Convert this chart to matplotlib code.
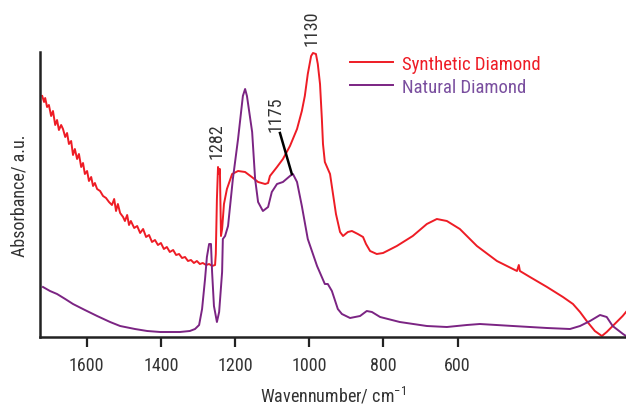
import matplotlib
matplotlib.use("Agg")
import matplotlib.pyplot as plt

plt.rcParams['font.family'] = ['Roboto Condensed', 'Archivo Narrow', 'PT Sans Narrow',
                               'Liberation Sans Narrow', 'Roboto', 'DejaVu Sans']
plt.rcParams['mathtext.fontset'] = 'custom'
plt.rcParams['mathtext.rm'] = 'Roboto Condensed'
plt.rcParams['mathtext.default'] = 'regular'

# synthetic diamond spectrum (wavenumber, absorbance a.u.)
syn_wn = [1720, 1715, 1712, 1707, 1702, 1696, 1691, 1685, 1680, 1675, 1669, 1664,
          1658, 1653, 1648, 1642, 1637, 1632, 1626, 1621, 1615, 1610, 1605, 1599,
          1594, 1588, 1583, 1578, 1572, 1564, 1556, 1548, 1540, 1532, 1526, 1521,
          1516, 1510, 1502, 1497, 1491, 1486, 1481, 1472, 1464, 1456, 1448, 1440,
          1432, 1424, 1416, 1408, 1400, 1392, 1384, 1376, 1367, 1359, 1351, 1343,
          1335, 1327, 1319, 1311, 1303, 1295, 1287, 1278, 1270, 1262, 1254, 1252,
          1249, 1246, 1243, 1241, 1238, 1235, 1230, 1222, 1208, 1192, 1173, 1155,
          1138, 1119, 1111, 1106, 1087, 1071, 1052, 1033, 1020, 1012, 1004, 995,
          990, 982, 977, 971, 966, 963, 958, 950, 944, 936, 928, 917, 909, 896,
          885, 869, 855, 847, 836, 818, 801, 764, 721, 683, 656, 629, 594, 548,
          494, 440, 435, 432, 405, 359, 316, 289, 270, 252, 230, 211, 198, 182,
          155, 146]
syn_abs = [2.41, 2.35, 2.39, 2.30, 2.32, 2.21, 2.26, 2.12, 2.17, 2.07, 2.12, 2.08,
           2.00, 2.04, 1.93, 1.96, 1.82, 1.88, 1.78, 1.83, 1.70, 1.74, 1.63, 1.66,
           1.56, 1.60, 1.51, 1.54, 1.48, 1.46, 1.41, 1.39, 1.35, 1.32, 1.38, 1.26,
           1.33, 1.24, 1.20, 1.16, 1.22, 1.12, 1.16, 1.09, 1.11, 1.04, 1.08, 1.00,
           1.02, 0.95, 0.97, 0.92, 0.94, 0.88, 0.90, 0.85, 0.87, 0.82, 0.83, 0.79,
           0.80, 0.76, 0.77, 0.74, 0.76, 0.73, 0.74, 0.72, 0.73, 0.71, 0.72, 0.83,
           1.38, 1.70, 1.63, 1.68, 1.01, 1.08, 1.33, 1.48, 1.63, 1.66, 1.65, 1.60,
           1.55, 1.53, 1.54, 1.61, 1.70, 1.78, 1.91, 2.08, 2.26, 2.41, 2.63, 2.81,
           2.84, 2.83, 2.73, 2.53, 2.18, 1.93, 1.75, 1.68, 1.63, 1.43, 1.23, 1.05,
           1.01, 1.05, 1.06, 1.03, 1.00, 0.93, 0.86, 0.83, 0.84, 0.91, 1.01, 1.13,
           1.18, 1.16, 1.08, 0.91, 0.76, 0.66, 0.72, 0.66, 0.60, 0.50, 0.40, 0.33,
           0.25, 0.16, 0.06, 0.01, 0.05, 0.11, 0.21, 0.25]

# natural diamond spectrum
nat_wn = [1718, 1699, 1680, 1658, 1637, 1605, 1572, 1537, 1510, 1470, 1437, 1402,
          1376, 1349, 1322, 1308, 1297, 1289, 1281, 1276, 1270, 1265, 1262, 1257,
          1249, 1243, 1235, 1233, 1227, 1219, 1206, 1192, 1179, 1173, 1168, 1154,
          1146, 1138, 1125, 1111, 1101, 1087, 1071, 1052, 1044, 1033, 1020, 1004,
          979, 958, 950, 939, 923, 912, 890, 863, 845, 831, 809, 756, 683, 629,
          575, 540, 451, 359, 297, 270, 243, 216, 198, 182, 154, 146]
nat_abs = [0.50, 0.46, 0.43, 0.38, 0.33, 0.27, 0.21, 0.15, 0.11, 0.08, 0.06, 0.05,
           0.05, 0.05, 0.06, 0.08, 0.12, 0.28, 0.58, 0.80, 0.93, 0.93, 0.65, 0.31,
           0.15, 0.25, 0.65, 0.98, 1.01, 1.11, 1.58, 1.98, 2.41, 2.48, 2.41, 2.05,
           1.58, 1.35, 1.26, 1.30, 1.45, 1.53, 1.55, 1.61, 1.63, 1.55, 1.31, 0.98,
           0.71, 0.53, 0.53, 0.46, 0.28, 0.23, 0.19, 0.21, 0.26, 0.25, 0.20, 0.15,
           0.11, 0.10, 0.12, 0.13, 0.11, 0.09, 0.08, 0.11, 0.16, 0.22, 0.20, 0.11,
           0.03, 0.01]

xticks = [1600, 1400, 1200, 1000, 800, 600]

# peak labels: text, x, y
peak_labels = [("1282", 1249, 1.97), ("1175", 1092, 2.24), ("1130", 995, 3.10)]

red = '#ee1c25'
purple = '#7b2483'
txt = '#333333'

fig = plt.figure(figsize=(6.26, 4.06), dpi=100)
ax = fig.add_axes([40/626, 68/406, 586/626, 285/406])

ax.plot(syn_wn, syn_abs, color=red, lw=1.4, label='Synthetic Diamond')
ax.plot(nat_wn, nat_abs, color=purple, lw=1.4, label='Natural Diamond')

ax.set_xlim(1726, 146)
ax.set_ylim(0, 2.85)

ax.spines['top'].set_visible(False)
ax.spines['right'].set_visible(False)
for s in ['left', 'bottom']:
    ax.spines[s].set_linewidth(1.8)
    ax.spines[s].set_color('#222222')

ax.set_xticks(xticks)
ax.set_yticks([])
ax.tick_params(axis='x', direction='out', length=7, width=1.6, color='#222222',
               labelsize=13, labelcolor=txt, pad=7)

ax.set_xlabel('Wavennumber/ cm$^{-1}$', fontsize=13, color=txt, labelpad=7)
ax.set_ylabel('Absorbance/ a.u.', fontsize=13, color=txt, labelpad=8)

for t, x, y in peak_labels:
    ax.text(x, y, t, rotation=90, ha='center', va='center', fontsize=13,
            color=txt, clip_on=False)
# leader line for 1175
ax.plot([1079, 1047], [2.04, 1.63], color='black', lw=1.8)

leg = ax.legend(loc='upper left', bbox_to_anchor=(350/626, 1 - 56/406),
                bbox_transform=fig.transFigure, frameon=False, fontsize=13.5,
                handlelength=2.3, handletextpad=0.48, labelspacing=0.25,
                borderpad=0, borderaxespad=0)
for text, c in zip(leg.get_texts(), [red, '#7a4f9f']):
    text.set_color(c)

fig.savefig('out.png', dpi=100)
